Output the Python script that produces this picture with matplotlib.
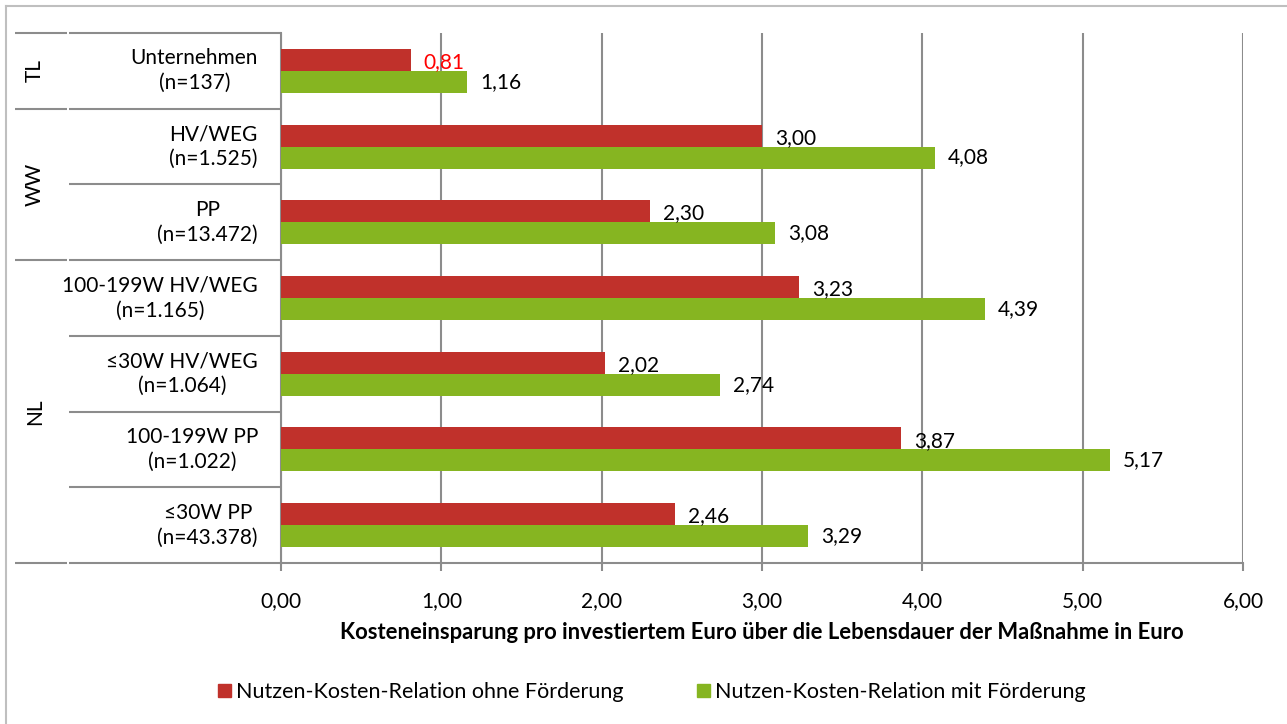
import matplotlib
matplotlib.use("Agg")
import matplotlib.pyplot as plt
from matplotlib.patches import Patch
from matplotlib.lines import Line2D

categories = ["Unternehmen\n(n=137)", "HV/WEG\n(n=1.525)", "PP\n(n=13.472)",
              "100-199W HV/WEG\n(n=1.165)", "≤30W HV/WEG\n(n=1.064)",
              "100-199W PP\n(n=1.022)", "≤30W PP\n(n=43.378)"]
groups = ["TL", "WW", "NL"]
group_sizes = [1, 2, 4]
ohne = [0.81, 3.00, 2.30, 3.23, 2.02, 3.87, 2.46]
mit = [1.16, 4.08, 3.08, 4.39, 2.74, 5.17, 3.29]
series_names = ["Nutzen-Kosten-Relation ohne Förderung", "Nutzen-Kosten-Relation mit Förderung"]
xticks = [0, 1, 2, 3, 4, 5, 6]
xlabel = "Kosteneinsparung pro investiertem Euro über die Lebensdauer der Maßnahme in Euro"

RED = "#C0312B"
GREEN = "#86B521"
GRID = "#8C8C8C"
FONT = ["Lato", "DejaVu Sans"]
plt.rcParams["font.family"] = FONT
FS = 15

W, H = 1287, 724
fig = plt.figure(figsize=(W / 100, H / 100), dpi=100)
AX_L, AX_R, AX_T, AX_B = 281, 1243, 33, 563
ax = fig.add_axes([AX_L / W, 1 - AX_B / H, (AX_R - AX_L) / W, (AX_B - AX_T) / H])

n = len(categories)
ys = list(range(n))
bh = 0.29
ax.barh([y - bh / 2 for y in ys], ohne, height=bh, color=RED, zorder=3)
ax.barh([y + bh / 2 for y in ys], mit, height=bh, color=GREEN, zorder=3)

for y, v in zip(ys, ohne):
    ax.annotate(f"{v:.2f}".replace(".", ","), (v, y - bh / 2 + 0.03), xytext=(13, 0),
                textcoords="offset pixels", va="center", ha="left", fontsize=FS,
                color=("#FF0000" if v < 1 else "black"), zorder=4)
for y, v in zip(ys, mit):
    ax.annotate(f"{v:.2f}".replace(".", ","), (v, y + bh / 2), xytext=(13, 0),
                textcoords="offset pixels", va="center", ha="left", fontsize=FS,
                color="black", zorder=4)

ax.set_xlim(0, 6)
ax.set_ylim(n - 0.5, -0.5)
ax.set_xticks(xticks)
ax.set_xticklabels([f"{t:.2f}".replace(".", ",") for t in xticks], fontsize=FS)
ax.tick_params(axis="x", length=6, width=1.5, color=GRID, pad=14)
ax.set_yticks([])
ax.grid(axis="x", color=GRID, linewidth=1.5, zorder=0)
for s in ["top", "right"]:
    ax.spines[s].set_visible(False)
for s in ["left", "bottom"]:
    ax.spines[s].set_color(GRID)
    ax.spines[s].set_linewidth(1.5)
ax.set_xlabel(xlabel, fontsize=15.8, fontweight="bold", labelpad=8)


def fig_y(yd):
    frac = (yd + 0.5) / n
    return 1 - (AX_T + frac * (AX_B - AX_T)) / H


for y, lab in zip(ys, categories):
    fig.text(258 / W, fig_y(y), lab, ha="right", va="center",
             fontsize=FS, multialignment="center", linespacing=1.3)

bounds = [-0.5]
acc = 0
for g in group_sizes:
    acc += g
    bounds.append(acc - 0.5)
for b in range(n + 1):
    yb = b - 0.5
    yf = fig_y(yb)
    if yb in bounds:
        segs = [(15, 67), (69, AX_L)]
    else:
        segs = [(69, AX_L)]
    for xa, xb in segs:
        fig.add_artist(Line2D([xa / W, xb / W], [yf, yf], transform=fig.transFigure,
                              color=GRID, linewidth=1.5, solid_capstyle="butt"))

start = 0
for g, size in zip(groups, group_sizes):
    center = start + size / 2 - 0.5
    fig.text(35 / W, fig_y(center), g, rotation=90, ha="center", va="center", fontsize=FS)
    start += size

handles = [Patch(color=RED, label=series_names[0]), Patch(color=GREEN, label=series_names[1])]
fig.legend(handles=handles, loc="center", bbox_to_anchor=(652 / W, 1 - 692 / H),
           ncol=2, frameon=False, fontsize=15.5, handlelength=0.6, handleheight=0.6,
           handletextpad=0.25, columnspacing=3.4)

fig.add_artist(Line2D([6 / W, 6 / W], [0, 1 - 6 / H], transform=fig.transFigure,
                      color="#BFBFBF", linewidth=1.5))
fig.add_artist(Line2D([6 / W, 1], [1 - 6 / H, 1 - 6 / H], transform=fig.transFigure,
                      color="#BFBFBF", linewidth=1.5))

fig.savefig("out.png", dpi=100)
